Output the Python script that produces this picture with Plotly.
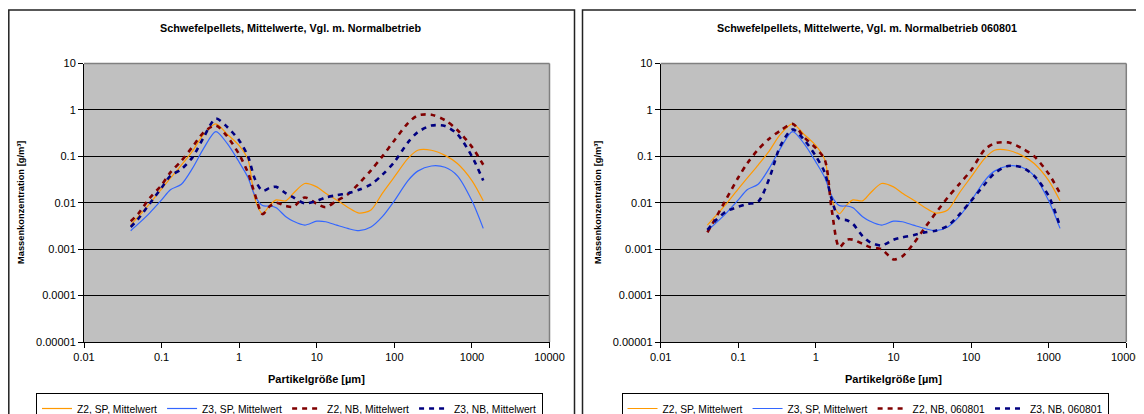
import plotly.graph_objects as go

# ---------------- data ----------------
sizes = [0.04, 0.05, 0.07, 0.1, 0.13, 0.18, 0.25, 0.35, 0.5, 0.7, 1.0, 1.3, 1.6, 2.0,
         2.5, 3.0, 4.0, 5.0, 7.0, 10, 13, 18, 25, 35, 50, 70, 100, 150, 200, 300,
         450, 650, 1000, 1400]

z2_sp = [0.0033, 0.005, 0.0095, 0.02, 0.034, 0.065, 0.13, 0.3, 0.5, 0.3, 0.17, 0.085,
         0.012, 0.0058, 0.009, 0.0115, 0.011, 0.016, 0.026, 0.022, 0.016, 0.0115, 0.008,
         0.006, 0.007, 0.016, 0.036, 0.09, 0.135, 0.135, 0.105, 0.07, 0.03, 0.011]

z3_sp = [0.0025, 0.0035, 0.006, 0.0115, 0.019, 0.025, 0.055, 0.15, 0.34, 0.19, 0.075,
         0.035, 0.014, 0.0087, 0.0085, 0.0078, 0.005, 0.004, 0.0033, 0.004, 0.0039, 0.0033,
         0.0028, 0.0025, 0.003, 0.005, 0.011, 0.03, 0.048, 0.062, 0.058, 0.038, 0.011, 0.0028]

z2_nb = [0.004, 0.0058, 0.0125, 0.024, 0.045, 0.08, 0.16, 0.33, 0.46, 0.27, 0.11, 0.044,
         0.015, 0.0057, 0.0085, 0.01, 0.0085, 0.0082, 0.013, 0.0095, 0.008, 0.011, 0.015,
         0.026, 0.05, 0.1, 0.22, 0.52, 0.76, 0.79, 0.6, 0.37, 0.16, 0.066]

z3_nb = [0.003, 0.0045, 0.0095, 0.021, 0.038, 0.053, 0.095, 0.26, 0.65, 0.43, 0.22, 0.1,
         0.032, 0.018, 0.021, 0.022, 0.016, 0.013, 0.0097, 0.011, 0.013, 0.0145, 0.016,
         0.019, 0.025, 0.04, 0.075, 0.2, 0.33, 0.46, 0.45, 0.3, 0.1, 0.03]

z2_nb_060801 = [0.0023, 0.0044, 0.012, 0.035, 0.07, 0.14, 0.24, 0.36, 0.5, 0.26, 0.15,
                0.085, 0.007, 0.0011, 0.0016, 0.0016, 0.0013, 0.0011, 0.001, 0.0006, 0.0007,
                0.0013, 0.0028, 0.006, 0.013, 0.025, 0.05, 0.14, 0.19, 0.2, 0.15, 0.1,
                0.042, 0.016]

z3_nb_060801 = [0.0026, 0.004, 0.0065, 0.0082, 0.0094, 0.0105, 0.033, 0.17, 0.38, 0.23,
                0.1, 0.045, 0.0117, 0.0045, 0.0042, 0.0035, 0.0019, 0.0014, 0.0012, 0.0016,
                0.0018, 0.002, 0.0023, 0.0025, 0.0032, 0.0055, 0.011, 0.025, 0.043, 0.062,
                0.058, 0.038, 0.014, 0.0031]

titles = ["Schwefelpellets, Mittelwerte, Vgl. m. Normalbetrieb",
          "Schwefelpellets, Mittelwerte, Vgl. m. Normalbetrieb 060801"]
names_left = ["Z2, SP, Mittelwert", "Z3, SP, Mittelwert", "Z2, NB, Mittelwert", "Z3, NB, Mittelwert"]
names_right = ["Z2, SP, Mittelwert", "Z3, SP, Mittelwert", "Z2, NB, 060801", "Z3, NB, 060801"]
x_tickvals = [0.01, 0.1, 1, 10, 100, 1000, 10000]
x_ticktext = ["0.01", "0.1", "1", "10", "100", "1000", "10000"]
y_tickvals = [0.00001, 0.0001, 0.001, 0.01, 0.1, 1, 10]
y_ticktext = ["0.00001", "0.0001", "0.001", "0.01", "0.1", "1", "10"]
x_title = "Partikelgröße [µm]"
y_title = "Massenkonzentration [g/m³]"

# ---------------- layout helpers ----------------
# the page body has an 8px margin, so the figure is made 8px smaller and
# positions (given in window pixels) are shifted accordingly
OFF = 8
W, H = 1144 - OFF, 414 - OFF
def px(x):
    return (x - OFF) / W
def py(y):
    return 1 - (y - OFF) / H

FONT = "Liberation Sans, Arial, sans-serif"
ORANGE = "#FF9900"
BLUE = "#3366FF"
DRED = "#800000"
DBLUE = "#000080"

fig = go.Figure()

series_left = [(z2_sp, ORANGE, None), (z3_sp, BLUE, None), (z2_nb, DRED, "dash"), (z3_nb, DBLUE, "dash")]
series_right = [(z2_sp, ORANGE, None), (z3_sp, BLUE, None), (z2_nb_060801, DRED, "dash"), (z3_nb_060801, DBLUE, "dash")]

for i, (vals, col, d) in enumerate(series_left):
    fig.add_trace(go.Scatter(
        x=sizes, y=vals, mode="lines", name=names_left[i], xaxis="x", yaxis="y",
        legend="legend",
        line=dict(color=col, width=2.6 if d else 1.2, shape="spline", smoothing=0.8,
                  dash="5px,5px" if d else "solid")))
for i, (vals, col, d) in enumerate(series_right):
    fig.add_trace(go.Scatter(
        x=sizes, y=vals, mode="lines", name=names_right[i], xaxis="x2", yaxis="y2",
        legend="legend2",
        line=dict(color=col, width=2.6 if d else 1.2, shape="spline", smoothing=0.8,
                  dash="5px,5px" if d else "solid")))

plots = [(84, 549.5), (660.7, 1126.3)]
top, bot = 63.5, 342

axis_common = dict(type="log", showgrid=False, zeroline=False, showline=True, automargin=False,
                   linecolor="#000000", linewidth=1, ticks="outside", ticklen=5,
                   tickcolor="#000000", tickfont=dict(family=FONT, size=11, color="#000"))

fig.update_layout(
    width=W, height=H,
    margin=dict(l=0, r=0, t=0, b=0, autoexpand=False),
    paper_bgcolor="white",
    plot_bgcolor="#C0C0C0",
    font=dict(family=FONT, color="#000"),
    xaxis=dict(domain=[px(plots[0][0]), px(plots[0][1])], range=[-2, 4],
               tickvals=x_tickvals, ticktext=x_ticktext, anchor="y", **axis_common),
    yaxis=dict(domain=[py(bot), py(top)], range=[-5, 1], tickvals=y_tickvals,
               ticktext=y_ticktext, anchor="x", **{**axis_common, "showgrid": True,
               "gridcolor": "#000000", "gridwidth": 1}),
    xaxis2=dict(domain=[px(plots[1][0]), px(plots[1][1])], range=[-2, 4],
                tickvals=x_tickvals, ticktext=x_ticktext, anchor="y2", **axis_common),
    yaxis2=dict(domain=[py(bot), py(top)], range=[-5, 1], tickvals=y_tickvals,
                ticktext=y_ticktext, anchor="x2", **{**axis_common, "showgrid": True,
                "gridcolor": "#000000", "gridwidth": 1}),
    legend=dict(orientation="h", x=px(289.5), xanchor="center", y=py(393), yanchor="top",
                bordercolor="#000000", borderwidth=1, bgcolor="white",
                font=dict(family=FONT, size=10.3), itemwidth=30, tracegroupgap=0),
    legend2=dict(orientation="h", x=px(865), xanchor="center", y=py(393), yanchor="top",
                 bordercolor="#000000", borderwidth=1, bgcolor="white",
                 font=dict(family=FONT, size=10.3), itemwidth=30, tracegroupgap=0),
    showlegend=True,
)

shapes = []
# panel borders
for (x0, x1) in [(8.8, 574.5), (582.5, 1150)]:
    shapes.append(dict(type="rect", xref="paper", yref="paper", x0=px(x0), x1=px(x1),
                       y0=py(420), y1=py(10), line=dict(color="#222222", width=1.5),
                       fillcolor="rgba(0,0,0,0)", layer="below"))
# gray top/right borders of plot areas
for (x0, x1) in plots:
    shapes.append(dict(type="line", xref="paper", yref="paper", x0=px(x0), x1=px(x1),
                       y0=py(top), y1=py(top), line=dict(color="#808080", width=1.5)))
    shapes.append(dict(type="line", xref="paper", yref="paper", x0=px(x1), x1=px(x1),
                       y0=py(top), y1=py(bot), line=dict(color="#808080", width=1.5)))
fig.update_layout(shapes=shapes)

ann = []
centers = [(290, 316.8, 21), (867, 893.5, 598)]
for k, (tc, xc, yx) in enumerate(centers):
    ann.append(dict(text="<b>" + titles[k] + "</b>", xref="paper", yref="paper",
                    x=px(tc), y=py(28.5), xanchor="center", yanchor="middle", showarrow=False,
                    font=dict(family=FONT, size=10.8)))
    ann.append(dict(text="<b>" + x_title + "</b>", xref="paper", yref="paper",
                    x=px(xc), y=py(379), xanchor="center", yanchor="middle", showarrow=False,
                    font=dict(family=FONT, size=11)))
    ann.append(dict(text="<b>" + y_title + "</b>", xref="paper", yref="paper",
                    x=px(yx), y=py(203), xanchor="center", yanchor="middle", showarrow=False,
                    textangle=-90, font=dict(family=FONT, size=9.3)))
fig.update_layout(annotations=ann)

fig.write_html("out.html")
